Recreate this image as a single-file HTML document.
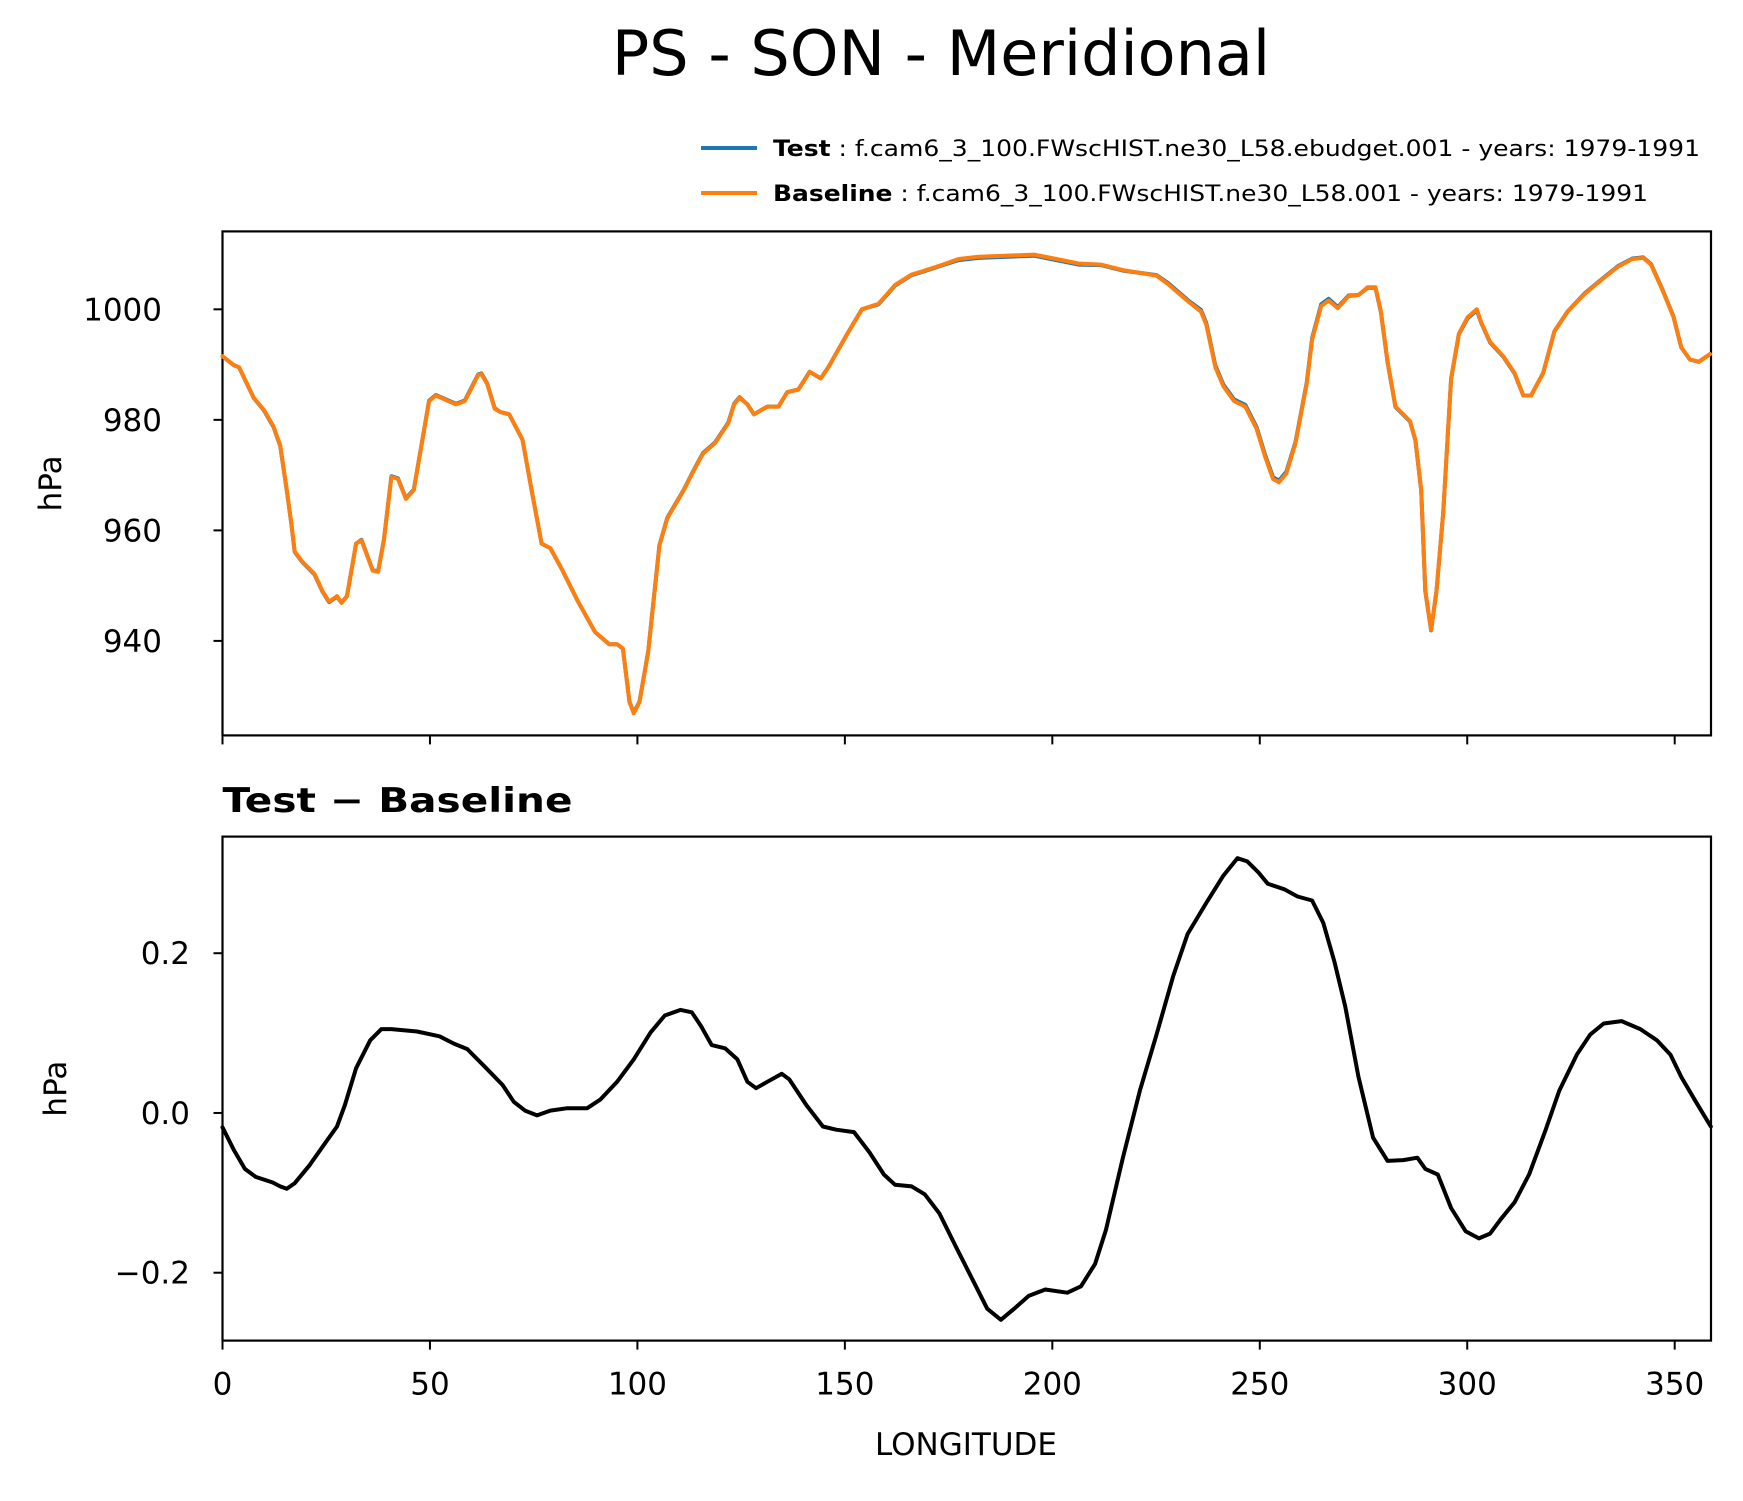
<!DOCTYPE html>
<html><head><meta charset="utf-8"><style>
body{margin:0;background:#fff;}
svg text{font-family:"DejaVu Sans","Liberation Sans",sans-serif;fill:#000;}
</style></head><body>
<svg id="fig" width="1743" height="1496" viewBox="0 0 1743 1496" xmlns="http://www.w3.org/2000/svg">
<rect width="1743" height="1496" fill="#fff"/>
<text x="941" y="75" font-size="62" text-anchor="middle">PS - SON - Meridional</text>
<g>
<line x1="701" y1="148" x2="757" y2="148" stroke="#1f77b4" stroke-width="4"/>
<text x="773" y="156" font-size="22" textLength="927" lengthAdjust="spacingAndGlyphs"><tspan font-weight="bold">Test</tspan> : f.cam6_3_100.FWscHIST.ne30_L58.ebudget.001 - years: 1979-1991</text>
<line x1="701" y1="193" x2="757" y2="193" stroke="#ff7f0e" stroke-width="4"/>
<text x="773" y="201" font-size="22" textLength="875" lengthAdjust="spacingAndGlyphs"><tspan font-weight="bold">Baseline</tspan> : f.cam6_3_100.FWscHIST.ne30_L58.001 - years: 1979-1991</text>
</g>
<text x="222.5" y="812" font-size="34" font-weight="bold" textLength="350" lengthAdjust="spacingAndGlyphs">Test − Baseline</text>
<g id="top"></g>
<g id="bot"></g>
<text x="966" y="1455" font-size="31" text-anchor="middle">LONGITUDE</text>
</svg>
<script>
const lonTop=[0,2.7,4,7.5,10,12.3,13.9,15.5,16.6,17.4,19.3,22.2,24.1,25.7,27.6,28.7,30,32.2,33.5,36.2,37.5,38.9,40.7,42.3,44.2,46.1,48.2,49.8,51.4,56.3,58.4,61.6,62.4,63.8,65.6,67,69.1,72.3,74.5,76.9,79,81.7,85.7,89.8,93.2,95.1,96.5,98.1,99.1,100.5,102.6,105.3,107.2,111.2,113.9,115.8,118.7,121.9,123.3,124.6,126.5,128.1,131.3,134,136.1,138.8,141.5,144.2,146,150.6,154.1,158.1,162.1,166.1,168.8,173.6,177.4,182.2,195.6,201,206.3,211.7,217,225.1,227.8,233.1,235.8,237.1,239.3,241.2,243.8,246.5,249.2,251.3,253.2,254.6,256.4,258.6,261.3,262.6,264.8,266.6,268.8,271.4,273.8,276,277.9,279.2,280.8,282.7,286.2,287.5,288.9,289.9,291.3,292.6,294.2,296.1,298,300.1,302.3,303.4,305.5,308.7,311.4,313.5,315.4,318.3,321,324.2,328.3,332.3,336.3,339.8,342.4,344.3,347,349.7,351.6,353.7,355.8,358.5];
const baselineValues=[991.5,989.9,989.5,984,981.8,978.8,975.4,967.3,961.2,956.2,954.3,952.1,949,947.1,948.1,946.9,948.1,957.6,958.2,952.7,952.5,958.2,969.7,969.3,965.7,967.3,976.4,983.4,984.4,982.8,983.4,988.1,988.3,986.5,982,981.4,981,976.4,967.3,957.6,956.8,953.1,947.1,941.6,939.4,939.4,938.6,928.9,926.9,928.9,938,957.2,962.2,967.3,971.3,973.9,975.8,979.4,982.8,984,982.8,981,982.4,982.4,985,985.5,988.7,987.5,989.5,995.6,1000,1001,1004.4,1006.3,1006.9,1008.1,1009.1,1009.5,1009.9,1009.1,1008.3,1008.1,1007.1,1006.1,1004.6,1001.2,999.6,997.2,989.5,986.1,983.4,982.4,978.4,973.3,969.3,968.7,970.3,975.8,986.5,994.5,1000.6,1001.6,1000.2,1002.4,1002.6,1004,1004,999.6,990.5,982.4,979.8,976.4,967.3,949.1,942,949.1,963.2,987.5,995.6,998.6,1000,997.6,994.1,991.5,988.5,984.4,984.4,988.5,996,999.6,1002.8,1005.3,1007.7,1009.1,1009.3,1008.1,1003.6,998.6,993.1,990.9,990.5,991.9];
const testValues=[991.5,989.9,989.5,984,981.7,978.7,975.3,967.2,961.1,956.1,954.2,952,948.9,947,948,946.9,948.1,957.6,958.3,952.8,952.6,958.3,969.8,969.4,965.8,967.4,976.5,983.5,984.5,982.9,983.5,988.2,988.4,986.6,982.1,981.4,981,976.4,967.3,957.6,956.8,953.1,947.1,941.6,939.4,939.4,938.6,929,927,929,938.1,957.3,962.3,967.4,971.4,974,975.9,979.5,982.9,984.1,982.8,981,982.4,982.4,985,985.5,988.7,987.5,989.5,995.6,1000,1000.9,1004.3,1006.2,1006.8,1008,1008.9,1009.3,1009.7,1008.9,1008.1,1008,1007,1006.2,1004.8,1001.4,999.9,997.5,989.8,986.4,983.7,982.7,978.7,973.6,969.6,969,970.6,976,986.7,994.8,1000.9,1001.9,1000.4,1002.5,1002.6,1003.9,1003.9,999.5,990.4,982.3,979.7,976.3,967.2,949,941.9,949,963.1,987.4,995.5,998.4,999.8,997.5,994,991.4,988.4,984.4,984.4,988.5,996,999.6,1002.9,1005.4,1007.8,1009.2,1009.4,1008.2,1003.7,998.7,993.1,990.9,990.5,991.9];
const lonDiff=[0,2.7,5.4,8,12.1,13.9,15.5,17.4,20.9,24.7,27.6,29.5,32.2,35.6,38.3,40.7,46.9,52.3,55.7,59,63,67.5,70.2,72.9,75.8,79,83.1,87.9,91.1,95.1,99.1,103.2,106.6,110.4,113.1,115.3,117.9,121.1,124.1,126.5,128.6,131.3,134.8,136.6,140.7,144.7,147.9,152.2,155.9,159.4,162.1,166.1,169.3,172.8,176.8,180.9,184.3,187.6,190.8,194.3,198.3,203.6,206.9,210.3,212.9,217,221.1,225.1,229.1,232.6,237.1,241.2,244.6,247,249.7,251.9,255.9,259.1,262.6,265.3,268,270.6,273.8,277.3,280.8,284.6,288,289.9,292.9,296.1,299.6,302.8,305.5,308.1,311.4,314.9,318.9,322.2,326.4,329.6,332.9,337.2,341.7,345.7,349,351.6,355.1,358.7];
const diffValues=[-0.018,-0.046,-0.070,-0.080,-0.087,-0.092,-0.095,-0.088,-0.066,-0.038,-0.017,0.010,0.056,0.091,0.105,0.105,0.102,0.096,0.087,0.080,0.059,0.035,0.014,0.003,-0.003,0.003,0.006,0.006,0.017,0.039,0.067,0.101,0.122,0.129,0.126,0.109,0.085,0.081,0.067,0.039,0.031,0.039,0.049,0.042,0.010,-0.017,-0.021,-0.024,-0.049,-0.077,-0.090,-0.092,-0.102,-0.126,-0.168,-0.210,-0.245,-0.259,-0.245,-0.229,-0.221,-0.225,-0.217,-0.189,-0.147,-0.056,0.028,0.098,0.171,0.224,0.263,0.297,0.319,0.315,0.301,0.287,0.280,0.271,0.266,0.238,0.189,0.133,0.045,-0.031,-0.060,-0.059,-0.056,-0.070,-0.077,-0.119,-0.148,-0.157,-0.151,-0.133,-0.112,-0.077,-0.021,0.028,0.073,0.098,0.112,0.115,0.105,0.091,0.073,0.045,0.014,-0.017];
const xTicks=[0,50,100,150,200,250,300,350];
const topTicks=[940,960,980,1000];
const topTickLabels=["940","960","980","1000"];
const diffTicks=[-0.2,0,0.2];
const diffTickLabels=["\u22120.2","0.0","0.2"];

const NS="http://www.w3.org/2000/svg";
const L=222.5,R=1711,X0=0,X1=358.75;
const xs=v=>L+(v-X0)/(X1-X0)*(R-L);
function mk(tag,attrs,parent){const e=document.createElementNS(NS,tag);for(const k in attrs)e.setAttribute(k,attrs[k]);parent.appendChild(e);return e;}

function panel(g,top,bot,y0,y1,yt,ytl,showXLabels,prefix,labelRight,yTitleX){
  const ys=v=>bot-(v-y0)/(y1-y0)*(bot-top);
  const frame=mk('rect',{x:L,y:top,width:R-L,height:bot-top,fill:'none',stroke:'#000','stroke-width':2.2},g);
  
  
  yt.forEach((t,i)=>{
    const y=ys(t);
    const tk=mk('line',{x1:L-9,x2:L,y1:y,y2:y,stroke:'#000','stroke-width':2},g);
    
    
    const tl=mk('text',{x:labelRight,y:y+11,'font-size':31,'text-anchor':'end'},g);
    tl.textContent=ytl[i];
    
    
  });
  xTicks.forEach(t=>{
    const x=xs(t);
    const tk=mk('line',{x1:x,x2:x,y1:bot,y2:bot+9,stroke:'#000','stroke-width':2},g);
    
    
    if(showXLabels){
      const tl=mk('text',{x:x,y:bot+54,'font-size':31,'text-anchor':'middle'},g);
      tl.textContent=String(t);
      
      
    }
  });
  const yl=mk('text',{x:0,y:0,'font-size':31,'text-anchor':'middle',transform:`translate(${yTitleX},${(top+bot)/2}) rotate(-90)`},g);
  yl.textContent='hPa';
  
  
  return ys;
}
function line(g,xv,yv,ys,color,w,name){
  const d=xv.map((x,i)=>(i?'L':'M')+xs(x).toFixed(1)+','+ys(yv[i]).toFixed(1)).join(' ');
  const p=mk('path',{d:d,fill:'none',stroke:color,'stroke-width':w,'stroke-linejoin':'round','stroke-linecap':'round'},g);
  
  
}
const gt=document.getElementById('top'),gb=document.getElementById('bot');
const ysT=panel(gt,231.4,735.4,922.9,1014.1,topTicks,topTickLabels,false,'top',162,61);
line(gt,lonTop,testValues,ysT,'#1f77b4',4,'test-line');
line(gt,lonTop,baselineValues,ysT,'#ff7f0e',4,'baseline-line');
const ysB=panel(gb,836.6,1340.6,-0.285,0.346,diffTicks,diffTickLabels,true,'diff',190,66);
line(gb,lonDiff,diffValues,ysB,'#000',4,'difference-line');
</script>
</body></html>
